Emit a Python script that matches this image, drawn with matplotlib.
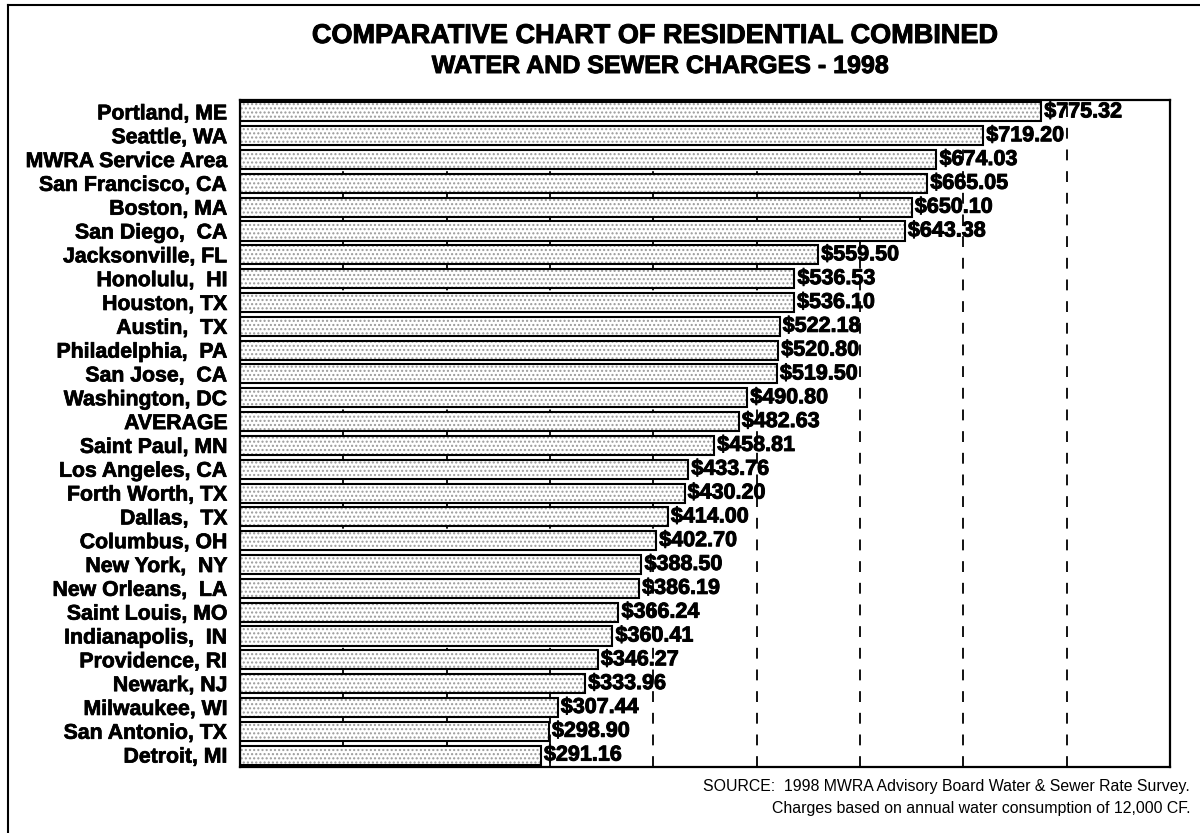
import matplotlib
matplotlib.use("Agg")
import matplotlib.pyplot as plt
from matplotlib.lines import Line2D
import matplotlib.patheffects as pe

plt.rcParams['font.family'] = ['Liberation Sans', 'DejaVu Sans']
plt.rcParams['hatch.linewidth'] = 1.0

cities = ["Portland, ME", "Seattle, WA", "MWRA Service Area", "San Francisco, CA",
          "Boston, MA", "San Diego,  CA", "Jacksonville, FL", "Honolulu,  HI",
          "Houston, TX", "Austin,  TX", "Philadelphia,  PA", "San Jose,  CA",
          "Washington, DC", "AVERAGE", "Saint Paul, MN", "Los Angeles, CA",
          "Forth Worth, TX", "Dallas,  TX", "Columbus, OH", "New York,  NY",
          "New Orleans,  LA", "Saint Louis, MO", "Indianapolis,  IN", "Providence, RI",
          "Newark, NJ", "Milwaukee, WI", "San Antonio, TX", "Detroit, MI"]
charges = [775.32, 719.20, 674.03, 665.05, 650.10, 643.38, 559.50, 536.53,
           536.10, 522.18, 520.80, 519.50, 490.80, 482.63, 458.81, 433.76,
           430.20, 414.00, 402.70, 388.50, 386.19, 366.24, 360.41, 346.27,
           333.96, 307.44, 298.90, 291.16]
grid_values = [100, 200, 300, 400, 500, 600, 700, 800]

heavy = [pe.withStroke(linewidth=0.7, foreground='black')]

fig = plt.figure(figsize=(12, 8.33), dpi=100)
ax = fig.add_axes([240/1200, 1-767/833, 930/1200, 667/833])

ypos = list(range(len(cities)))
for g in grid_values:
    ax.axvline(g, color='black', linestyle=(0, (6, 6)), linewidth=1.3, zorder=0)

ax.barh(ypos, charges, height=0.8, left=0, color='white', edgecolor='#9a9a9a',
        hatch='....', linewidth=0, zorder=2)
ax.barh(ypos, charges, height=0.8, left=0, fill=False, edgecolor='black',
        linewidth=1.5, zorder=3)

for y, v in zip(ypos, charges):
    ax.text(v + 3, y, f"${v:,.2f}", va='center', ha='left', fontsize=15.5,
            fontweight='bold', zorder=4, path_effects=heavy)

ax.set_xlim(0, 900)
ax.set_ylim(len(cities) - 0.5, -0.5)
ax.set_yticks(ypos)
ax.set_yticklabels(cities, fontsize=15.3, fontweight='bold')
for t in ax.get_yticklabels():
    t.set_path_effects([pe.withStroke(linewidth=0.5, foreground='black')])
ax.tick_params(axis='y', length=0, pad=9)
ax.set_xticks([])
for s in ax.spines.values():
    s.set_linewidth(1.6)

fig.text(656/1200, 1-36/833, "COMPARATIVE CHART OF RESIDENTIAL COMBINED",
         ha='center', va='center', fontsize=19.5, fontweight='bold', path_effects=heavy)
fig.text(660/1200, 1-66/833, "WATER AND SEWER CHARGES - 1998",
         ha='center', va='center', fontsize=18, fontweight='bold', path_effects=heavy)
fig.text(1190/1200, 1-787/833,
         "SOURCE:  1998 MWRA Advisory Board Water & Sewer Rate Survey.",
         ha='right', va='center', fontsize=11.4)
fig.text(1190/1200, 1-808/833,
         "Charges based on annual water consumption of 12,000 CF.",
         ha='right', va='center', fontsize=11.4)

fig.add_artist(Line2D([8/1200, 8/1200], [0, 1-5/833], color='black', linewidth=1.5,
                      transform=fig.transFigure))
fig.add_artist(Line2D([8/1200, 1], [1-5/833, 1-5/833], color='black', linewidth=1.5,
                      transform=fig.transFigure))

fig.savefig("out.png", dpi=100)
